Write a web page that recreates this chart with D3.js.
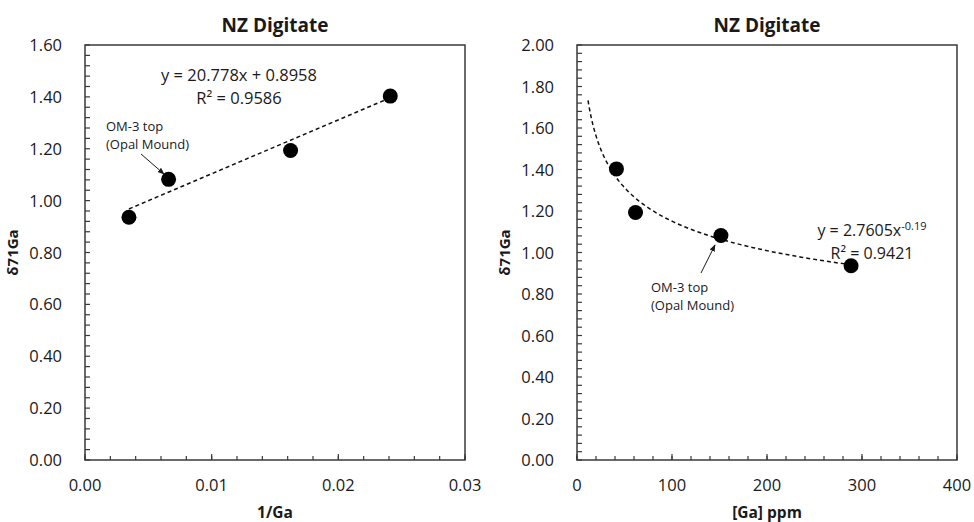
<!DOCTYPE html>
<html>
<head>
<meta charset="utf-8">
<script src="https://cdn.jsdelivr.net/npm/d3@7/dist/d3.min.js"></script>
<style>
  html, body { margin: 0; padding: 0; background: #fff; }
  svg { display: block; }
  text { font-family: "Open Sans", "DejaVu Sans", sans-serif; fill: #1a1a1a; }
</style>
</head>
<body>
<svg id="chart" width="974" height="522"></svg>
<script>
// ---------- data ----------
const sampleLabels = ["S1", "OM-3 top", "S3", "S4"];
const gaPpm   = [288.5, 151.5, 61.6, 41.5];          // [Ga] ppm
const invGa   = [0.00347, 0.00660, 0.01623, 0.02410]; // 1/Ga
const d71Ga   = [0.936, 1.082, 1.193, 1.403];         // δ71Ga

const linFit = { slope: 20.778, intercept: 0.8958, r2: "0.9586", xFrom: 0.00347, xTo: 0.0238 };
const powFit = { a: 2.7605, b: -0.19, r2: "0.9421", xFrom: 11.6, xTo: 288.5 };

const leftXTicks  = [0.00, 0.01, 0.02, 0.03];
const leftYTicks  = [0.00, 0.20, 0.40, 0.60, 0.80, 1.00, 1.20, 1.40, 1.60];
const rightXTicks = [0, 100, 200, 300, 400];
const rightYTicks = [0.00, 0.20, 0.40, 0.60, 0.80, 1.00, 1.20, 1.40, 1.60, 1.80, 2.00];

const titleText = "NZ Digitate";
const yTitle = "δ71Ga";
const annot1 = "OM-3 top", annot2 = "(Opal Mound)";

// ---------- drawing ----------
const svg = d3.select("#chart");
const axisColor = "#3a3a3a";

svg.append("defs").append("marker")
  .attr("id", "arrow").attr("viewBox", "0 0 10 10")
  .attr("refX", 9).attr("refY", 5)
  .attr("markerWidth", 7).attr("markerHeight", 7)
  .attr("orient", "auto-start-reverse")
  .append("path").attr("d", "M0,1 L10,5 L0,9 z").attr("fill", "#1a1a1a");

function panel(opts) {
  const { left, right, top, bottom, xDomain, yDomain, xTicks, yTicks,
          xMinorStep, yMinorStep, xFmt, xLabel } = opts;
  const x = d3.scaleLinear().domain(xDomain).range([left, right]);
  const y = d3.scaleLinear().domain(yDomain).range([bottom, top]);
  const g = svg.append("g");

  // frame
  g.append("rect").attr("x", left).attr("y", top)
    .attr("width", right - left).attr("height", bottom - top)
    .attr("fill", "none").attr("stroke", axisColor).attr("stroke-width", 1.5);

  // minor ticks
  const xMinor = d3.range(xDomain[0], xDomain[1] + xMinorStep / 2, xMinorStep);
  const yMinor = d3.range(yDomain[0], yDomain[1] + yMinorStep / 2, yMinorStep);
  g.append("g").selectAll("line").data(xMinor).join("line")
    .attr("x1", d => x(d)).attr("x2", d => x(d))
    .attr("y1", bottom).attr("y2", bottom - 4)
    .attr("stroke", axisColor).attr("stroke-width", 1.2);
  g.append("g").selectAll("line").data(yMinor).join("line")
    .attr("x1", left).attr("x2", left + 5)
    .attr("y1", d => y(d)).attr("y2", d => y(d))
    .attr("stroke", axisColor).attr("stroke-width", 1.2);
  // major x ticks slightly longer
  g.append("g").selectAll("line").data(xTicks).join("line")
    .attr("x1", d => x(d)).attr("x2", d => x(d))
    .attr("y1", bottom).attr("y2", bottom - 6)
    .attr("stroke", axisColor).attr("stroke-width", 1.2);

  // tick labels
  g.append("g").selectAll("text").data(xTicks).join("text")
    .attr("x", d => x(d)).attr("y", 491)
    .attr("text-anchor", "middle").attr("font-size", 16.5)
    .text(xFmt);
  g.append("g").selectAll("text").data(yTicks).join("text")
    .attr("x", left - 23).attr("y", d => y(d) + 6)
    .attr("text-anchor", "end").attr("font-size", 16.5)
    .text(d => d3.format(".2f")(d));

  // titles
  g.append("text").attr("x", (left + right) / 2).attr("y", 32)
    .attr("text-anchor", "middle").attr("font-size", 19).attr("font-weight", "bold")
    .text(titleText);
  g.append("text").attr("x", (left + right) / 2).attr("y", 518)
    .attr("text-anchor", "middle").attr("font-size", 15.5).attr("font-weight", "bold")
    .text(xLabel);
  g.append("text")
    .attr("transform", `translate(${left - 67},${(top + bottom) / 2}) rotate(-90)`)
    .attr("text-anchor", "middle").attr("font-size", 15).attr("font-weight", "bold")
    .text(yTitle);

  return { x, y, g };
}

// ----- left panel -----
const L = panel({
  left: 85, right: 465, top: 45, bottom: 460,
  xDomain: [0, 0.03], yDomain: [0, 1.6],
  xTicks: leftXTicks, yTicks: leftYTicks,
  xMinorStep: 0.002, yMinorStep: 0.04,
  xFmt: d => d3.format(".2f")(d), xLabel: "1/Ga"
});
L.g.append("line")
  .attr("x1", L.x(linFit.xFrom)).attr("y1", L.y(linFit.slope * linFit.xFrom + linFit.intercept))
  .attr("x2", L.x(linFit.xTo)).attr("y2", L.y(linFit.slope * linFit.xTo + linFit.intercept))
  .attr("stroke", "#111").attr("stroke-width", 1.5).attr("stroke-dasharray", "4,3");
L.g.selectAll("circle.pt").data(d3.range(invGa.length)).join("circle")
  .attr("cx", i => L.x(invGa[i])).attr("cy", i => L.y(d71Ga[i]))
  .attr("r", 7.5).attr("fill", "#000");
L.g.append("text").attr("x", 239).attr("y", 81).attr("text-anchor", "middle")
  .attr("font-size", 16.5).text(`y = ${linFit.slope}x + ${linFit.intercept}`);
L.g.append("text").attr("x", 239).attr("y", 104).attr("text-anchor", "middle")
  .attr("font-size", 16.5).text(`R² = ${linFit.r2}`);
L.g.append("text").attr("x", 106).attr("y", 131).attr("font-size", 13).text(annot1);
L.g.append("text").attr("x", 106).attr("y", 149).attr("font-size", 13).text(annot2);
L.g.append("line").attr("x1", 141).attr("y1", 154).attr("x2", 164).attr("y2", 174)
  .attr("stroke", "#1a1a1a").attr("stroke-width", 1).attr("marker-end", "url(#arrow)");

// ----- right panel -----
const R = panel({
  left: 577, right: 957, top: 45, bottom: 460,
  xDomain: [0, 400], yDomain: [0, 2.0],
  xTicks: rightXTicks, yTicks: rightYTicks,
  xMinorStep: 20, yMinorStep: 0.04,
  xFmt: d => d3.format("d")(d), xLabel: "[Ga] ppm"
});
const curveXs = d3.range(0, 81).map(k => powFit.xFrom * Math.pow(powFit.xTo / powFit.xFrom, k / 80));
R.g.append("path")
  .attr("d", d3.line().x(v => R.x(v)).y(v => R.y(powFit.a * Math.pow(v, powFit.b)))(curveXs))
  .attr("fill", "none").attr("stroke", "#111").attr("stroke-width", 1.5)
  .attr("stroke-dasharray", "4,3");
R.g.selectAll("circle.pt").data(d3.range(gaPpm.length)).join("circle")
  .attr("cx", i => R.x(gaPpm[i])).attr("cy", i => R.y(d71Ga[i]))
  .attr("r", 7.5).attr("fill", "#000");
const eq = R.g.append("text").attr("x", 872).attr("y", 236).attr("text-anchor", "middle")
  .attr("font-size", 16);
eq.append("tspan").text(`y = ${powFit.a}x`);
eq.append("tspan").attr("dy", -6).attr("font-size", 11).text(`${powFit.b}`);
R.g.append("text").attr("x", 872).attr("y", 259).attr("text-anchor", "middle")
  .attr("font-size", 16).text(`R² = ${powFit.r2}`);
R.g.append("text").attr("x", 651).attr("y", 292).attr("font-size", 13).text(annot1);
R.g.append("text").attr("x", 651).attr("y", 310).attr("font-size", 13).text(annot2);
R.g.append("line").attr("x1", 701).attr("y1", 273).attr("x2", 715).attr("y2", 245)
  .attr("stroke", "#1a1a1a").attr("stroke-width", 1).attr("marker-end", "url(#arrow)");
</script>
</body>
</html>
